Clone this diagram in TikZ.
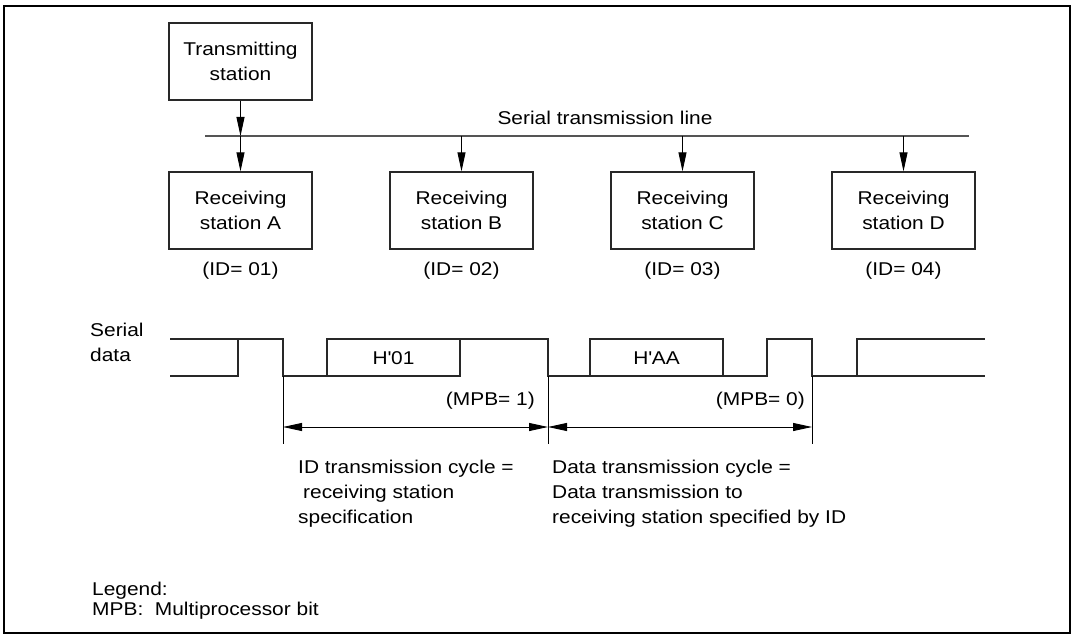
\documentclass[tikz,border=0pt]{standalone}
\usepackage{fontspec}
\setmainfont{Liberation Sans}[FakeStretch=1.13]
\usetikzlibrary{arrows.meta,positioning,calc}
\definecolor{mpedge}{RGB}{40,40,40}
\definecolor{mpbus}{RGB}{85,85,85}
\tikzset{
  station/.style={
    draw=mpedge, line width=1.3pt, inner sep=0pt, align=center,
    minimum width=143pt, minimum height=77pt
  },
  txt/.style={inner sep=0pt, align=left},
  arr/.style={-{Triangle[length=19pt,width=8pt]}, draw=black, line width=0.9pt},
  dimarr/.style={{Triangle[length=19pt,width=8pt]}-{Triangle[length=19pt,width=8pt]},
    draw=black, line width=0.9pt},
  bus/.style={draw=mpbus, line width=2pt},
  wave/.style={draw=mpedge, line width=1.4pt},
  ext/.style={draw=black, line width=0.8pt},
  every picture/.append style={font=\fontsize{18.5}{25}\selectfont, line join=miter}
}

\begin{document}
\begin{tikzpicture}[x=1pt,y=-1pt]
  \useasboundingbox (0,0) rectangle (1075,636);
  \draw[line width=2.2pt] (4,6) rectangle (1070,633);

  % stations on the serial line
  \node[station] (tx) at (240.5,61.5) {Transmitting\\station};
  \coordinate (busL) at (205,136);
  \coordinate (busR) at (969,136);
  \draw[bus] (busL) -- (busR);
  \node[txt, anchor=base] (busname) at (605,125) {Serial transmission line};
  \foreach \s/\x [count=\k] in {A/240.5,B/461.5,C/682.5,D/903.5} {
    \node[station] (rx\s) at (\x,210.5) {Receiving\\station \s};
    \node[txt, anchor=base] (id\s) at (\x,275) {(ID= 0\k)};
    \coordinate (tap\s) at (rx\s.north |- busL);
    \draw[arr] (tap\s) -- (rx\s);
  }
  \draw[arr] (tx) -- (tapA);

  % serial data waveform (base = last line)
  \node[txt, anchor=base west] (sdata) at (90,361) {Serial\\data};
  \draw[wave] (170,376) -- (238,376) -- (238,339);
  \draw[wave] (170,339) -- (283,339) -- (283,376) -- (460,376) -- (460,339)
    -- (548,339) -- (548,376) -- (767,376) -- (767,339) -- (812,339)
    -- (812,376) -- (985,376);
  \draw[wave] (327,376) -- (327,339) -- (460,339);
  \draw[wave] (590,376) -- (590,339) -- (723,339) -- (723,376);
  \draw[wave] (857,376) -- (857,339) -- (985,339);
  \node[txt] (idbyte) at (393.5,358) {H\textquotesingle 01};
  \node[txt] (databyte) at (656.5,358) {H\textquotesingle AA};
  \node[txt, anchor=base east] (mpb1) at (535,405) {(MPB= 1)};
  \node[txt, anchor=base east] (mpb0) at (805,405) {(MPB= 0)};

  % cycle dimensions
  \foreach \x/\n in {283/cyc0,548/cyc1,812/cyc2} {
    \coordinate (\n) at (\x,427);
    \draw[ext] (\x,376) -- (\x,444);
  }
  \draw[dimarr] (cyc0) -- (cyc1);
  \draw[dimarr] (cyc1) -- (cyc2);
  \node[txt, anchor=base west] (idcyc) at (298,523)
    {ID transmission cycle =\\\hspace*{5pt}receiving station\\specification};
  \node[txt, anchor=base west] (datacyc) at (552,523)
    {Data transmission cycle =\\Data transmission to\\receiving station specified by ID};

  % legend
  \node[txt, anchor=base west, font=\fontsize{18.5}{20}\selectfont] (legend) at (92,615)
    {Legend:\\MPB:\ \ Multiprocessor bit};
\end{tikzpicture}
\end{document}
